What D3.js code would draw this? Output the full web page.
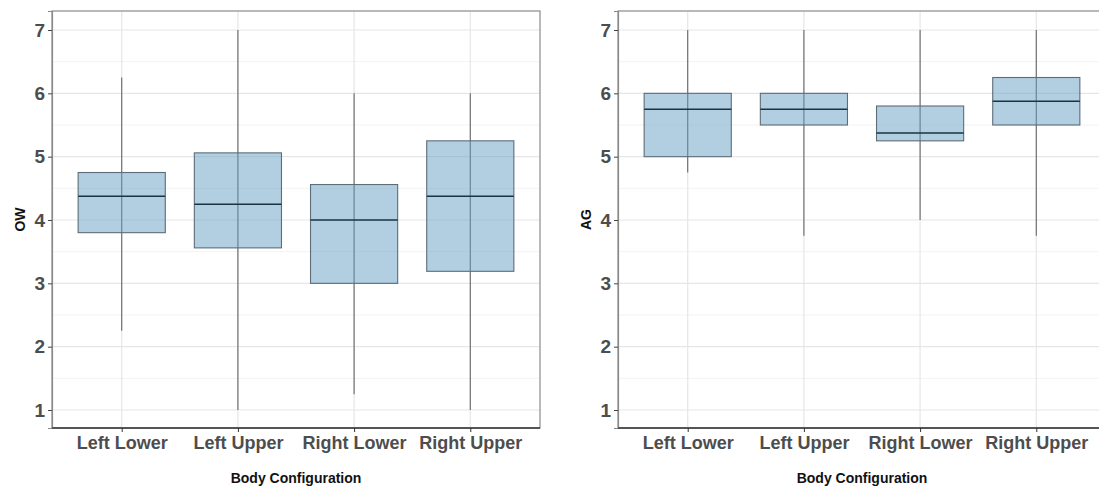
<!DOCTYPE html>
<html>
<head>
<meta charset="utf-8">
<script src="https://cdn.jsdelivr.net/npm/d3@7"></script>
<style>
  body { margin: 0; background: #fff; }
  svg text { font-family: "Liberation Sans", Arial, sans-serif; }
</style>
</head>
<body>
<svg id="chart" width="1099" height="490"></svg>
<script>
// categories along x
var categories = ["Left Lower", "Left Upper", "Right Lower", "Right Upper"];
var yTicks = [1, 2, 3, 4, 5, 6, 7];

// OW box stats
var owLow = [2.25, 1, 1.25, 1];
var owQ1 = [3.8, 3.56, 3, 3.19];
var owMed = [4.375, 4.25, 4, 4.375];
var owQ3 = [4.75, 5.06, 4.56, 5.25];
var owHigh = [6.25, 7, 6, 6];

// AG box stats
var agLow = [4.75, 3.75, 4, 3.75];
var agQ1 = [5, 5.5, 5.25, 5.5];
var agMed = [5.75, 5.75, 5.375, 5.875];
var agQ3 = [6, 6, 5.8, 6.25];
var agHigh = [7, 7, 7, 7];

var svg = d3.select("#chart");
var plotTop = 11, plotBottom = 428, plotWidth = 488;

function drawPanel(left, title, low, q1, med, q3, high) {
  var g = svg.append("g");

  var x = d3.scalePoint()
    .domain(categories)
    .range([left, left + plotWidth])
    .padding(0.6);
  var step = x.step();

  var y = d3.scaleLinear()
    .domain([0.716, 7.3])
    .range([plotBottom, plotTop]);

  // minor grid
  g.selectAll(".minor")
    .data(d3.range(1.5, 7.5, 1))
    .enter().append("line")
    .attr("x1", left).attr("x2", left + plotWidth)
    .attr("y1", function (d) { return y(d); })
    .attr("y2", function (d) { return y(d); })
    .attr("stroke", "#f2f2f2")
    .attr("stroke-width", 1);

  // major grid
  g.selectAll(".major")
    .data(yTicks)
    .enter().append("line")
    .attr("x1", left).attr("x2", left + plotWidth)
    .attr("y1", function (d) { return y(d); })
    .attr("y2", function (d) { return y(d); })
    .attr("stroke", "#e6e6e6")
    .attr("stroke-width", 1.2);

  g.selectAll(".vgrid")
    .data(categories)
    .enter().append("line")
    .attr("x1", function (d) { return x(d); })
    .attr("x2", function (d) { return x(d); })
    .attr("y1", plotTop).attr("y2", plotBottom)
    .attr("stroke", "#e6e6e6")
    .attr("stroke-width", 1.2);

  var boxW = step * 0.75;

  // whiskers
  g.selectAll(".whisker")
    .data(categories)
    .enter().append("line")
    .attr("x1", function (d) { return x(d); })
    .attr("x2", function (d) { return x(d); })
    .attr("y1", function (d, i) { return y(low[i]); })
    .attr("y2", function (d, i) { return y(high[i]); })
    .attr("stroke", "#666")
    .attr("stroke-width", 1.1);

  // boxes
  g.selectAll(".box")
    .data(categories)
    .enter().append("rect")
    .attr("x", function (d) { return x(d) - boxW / 2; })
    .attr("width", boxW)
    .attr("y", function (d, i) { return y(q3[i]); })
    .attr("height", function (d, i) { return y(q1[i]) - y(q3[i]); })
    .attr("fill", "rgba(100,160,195,0.5)")
    .attr("stroke", "#5d6d78")
    .attr("stroke-width", 1.1);

  // medians
  g.selectAll(".median")
    .data(categories)
    .enter().append("line")
    .attr("x1", function (d) { return x(d) - boxW / 2; })
    .attr("x2", function (d) { return x(d) + boxW / 2; })
    .attr("y1", function (d, i) { return y(med[i]); })
    .attr("y2", function (d, i) { return y(med[i]); })
    .attr("stroke", "#1c3342")
    .attr("stroke-width", 1.5);

  // panel border
  g.append("rect")
    .attr("x", left).attr("y", plotTop)
    .attr("width", plotWidth).attr("height", plotBottom - plotTop)
    .attr("fill", "none")
    .attr("stroke", "#8a8a8a")
    .attr("stroke-width", 1.2);

  // y axis
  var yAxis = g.append("g")
    .attr("transform", "translate(" + left + ",0)")
    .call(d3.axisLeft(y).tickValues(yTicks).tickFormat(d3.format("d")).tickSize(4).tickPadding(3));
  yAxis.select(".domain").attr("stroke", "#8a8a8a").attr("stroke-width", 1.2);
  yAxis.selectAll(".tick line").attr("stroke", "#444");
  yAxis.selectAll("text")
    .attr("fill", "#4d4d4d")
    .style("font-size", "19px")
    .style("font-weight", "bold");

  // x axis
  var xAxis = g.append("g")
    .attr("transform", "translate(0," + plotBottom + ")")
    .call(d3.axisBottom(x).tickSize(4).tickPadding(4));
  xAxis.select(".domain")
    .attr("d", "M" + left + ",0H" + (left + plotWidth))
    .attr("stroke", "#555").attr("stroke-width", 2);
  xAxis.selectAll(".tick line").attr("stroke", "#333");
  xAxis.selectAll("text")
    .attr("fill", "#4d4d4d")
    .style("font-size", "18px")
    .style("font-weight", "bold");

  // axis titles
  g.append("text")
    .attr("x", left + plotWidth / 2)
    .attr("y", 483)
    .attr("text-anchor", "middle")
    .style("font-size", "14px")
    .style("font-weight", "bold")
    .attr("fill", "#111")
    .text("Body Configuration");

  g.append("text")
    .attr("transform", "translate(" + (left - 27) + "," + ((plotTop + plotBottom) / 2) + ") rotate(-90)")
    .attr("text-anchor", "middle")
    .style("font-size", "14px")
    .style("font-weight", "bold")
    .attr("fill", "#111")
    .text(title);
}

drawPanel(52, "OW", owLow, owQ1, owMed, owQ3, owHigh);
drawPanel(618, "AG", agLow, agQ1, agMed, agQ3, agHigh);
</script>
</body>
</html>
